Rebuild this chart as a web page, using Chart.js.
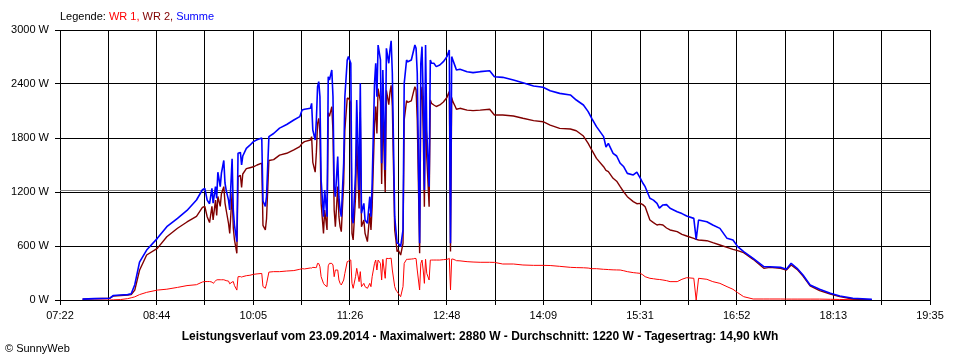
<!DOCTYPE html>
<html>
<head>
<meta charset="utf-8">
<script src="https://cdn.jsdelivr.net/npm/chart.js@4.4.1/dist/chart.umd.min.js"></script>
<style>
  html, body { margin: 0; padding: 0; background: #ffffff; }
</style>
</head>
<body>
<canvas id="myChart" width="960" height="360"></canvas>
<script>
// x axis labels (every second grid line carries one)
const xLabels = ['07:22', '08:44', '10:05', '11:26', '12:48', '14:09', '15:31', '16:52', '18:13', '19:35'];

const seriesNames = ['WR 1', 'WR 2', 'Summe'];
const averageW = 1220;

// sample times of the readings
const times = [
  '07:41','07:51','08:04','08:07','08:13','08:19','08:22','08:25','08:29','08:35','08:44','08:52','09:01','09:09','09:17','09:22',
  '09:24','09:26','09:28','09:30','09:31','09:33','09:34','09:35','09:37','09:38','09:40','09:41','09:42','09:44','09:45','09:47','09:48','09:49','09:51','09:52','09:54','09:55','09:56','09:59',
  '10:02','10:05','10:08','10:12','10:13','10:15','10:16','10:18','10:22','10:27','10:33','10:39','10:44',
  '10:46','10:48','10:53','10:54','10:55','10:57','10:58','10:59','11:00','11:01','11:02','11:04','11:05','11:07','11:08','11:09','11:11','11:12','11:13','11:14',
  '11:16','11:17','11:18','11:19','11:21','11:22','11:24','11:25','11:26','11:27','11:28','11:29','11:31','11:32','11:34','11:35','11:36','11:38','11:39','11:41','11:43','11:44','11:45',
  '11:47','11:48','11:49','11:50','11:52','11:53','11:54','11:56','11:57','11:59','12:00','12:01','12:02','12:04','12:05','12:06','12:07','12:09','12:11','12:12','12:14','12:15',
  '12:18','12:20','12:21','12:22','12:23','12:25','12:26','12:27','12:28','12:29','12:30','12:31','12:33','12:34','12:35','12:37','12:39','12:42','12:45','12:48','12:49','12:50','12:51','12:52','12:53',
  '12:55','12:56','12:59','13:05','13:10','13:16','13:24','13:28','13:35','13:44','13:52','14:01','14:09','14:15','14:23','14:32','14:37','14:43','14:47','14:50','14:54',
  '15:00','15:02','15:04','15:08','15:11','15:14','15:17','15:20','15:25','15:28','15:31','15:33','15:35','15:39','15:42','15:45','15:47','15:50','15:53','15:56',
  '16:02','16:06','16:10','16:16','16:18','16:20','16:27','16:32','16:38','16:44','16:49','16:53','16:58','17:06','17:15','17:20','17:29','17:34','17:38','17:43','17:48','17:54','18:02','18:11','18:19','18:30','18:46',
];

// WR 1 (W)
const wr1 = [
  0,0,0,2,5,15,25,35,60,85,110,120,140,160,170,200,
  205,205,205,200,185,210,225,225,225,225,225,220,215,210,180,200,205,160,110,259,260,255,260,270,
  275,285,290,295,150,130,180,310,315,315,322,327,341,
  348,345,356,355,363,360,360,407,405,370,259,185,167,148,380,407,407,389,259,333,
  333,222,185,167,222,296,426,430,444,444,185,130,259,352,204,315,148,185,148,130,185,148,259,
  407,444,333,444,407,222,452,241,463,460,463,465,333,148,111,93,74,37,148,407,452,452,
  455,458,463,460,333,111,407,444,333,185,452,296,222,444,444,444,444,444,448,452,455,463,111,455,455,
  444,437,435,426,422,419,419,418,400,400,389,385,385,383,374,363,360,358,355,348,348,
  341,340,338,335,334,333,325,315,304,300,296,280,259,241,236,230,228,222,215,204,
  204,230,248,241,0,241,230,204,185,148,119,81,37,11,11,11,11,10,10,10,10,10,10,8,6,3,0,
];

// WR 2 (W)
const wr2 = [
  10,15,20,45,50,55,60,110,330,500,574,703,797,867,930,1030,
  1040,925,860,1040,890,1110,940,1150,1040,1180,1260,1080,1000,850,740,1185,800,667,519,1370,1385,1250,1400,1460,
  1470,1480,1500,1520,830,780,900,1550,1560,1610,1630,1667,1704,
  1741,1759,1778,1815,1530,1420,1640,1960,2019,1852,1074,740,1000,778,2080,2040,2148,1870,1000,815,
  1260,926,815,760,1297,1889,2241,2241,2222,2186,741,667,1148,1778,1018,2090,815,889,741,648,963,778,1037,
  1950,2150,1850,2350,2200,1290,2100,1200,2330,2170,2310,2385,2150,778,667,537,556,500,630,2000,2215,2196,
  2212,2320,2370,2336,2000,519,2220,2370,1889,1037,2370,1593,1037,2222,2185,2167,2150,2167,2200,2250,2285,2315,540,2250,2204,
  2150,2119,2130,2110,2104,2110,2119,2056,2056,2044,2019,1993,1981,1944,1907,1900,1881,1822,1741,1667,1574,
  1481,1440,1426,1352,1320,1259,1200,1148,1093,1070,1074,1060,1037,889,860,833,840,833,800,778,
  759,730,711,685,674,667,659,637,611,585,563,548,526,452,352,363,352,333,389,341,267,156,104,67,37,11,0,
];

// Summe (W)
const summe = [
  10,15,20,50,55,60,70,170,420,555,685,814,908,995,1111,1225,
  1240,1110,1070,1240,1075,1260,1130,1420,1260,1410,1550,1300,1220,1110,1000,1570,1000,830,648,1630,1640,1500,1600,1685,
  1720,1760,1780,1800,1100,1040,1150,1815,1850,1910,1950,2000,2037,
  2111,2120,2130,2185,1889,1778,2000,2370,2426,2259,1333,926,1222,926,2481,2444,2556,2259,1259,1148,
  1593,1148,1000,926,1519,2259,2667,2704,2667,2630,926,852,1407,2222,1222,2407,963,1074,889,852,1148,926,1296,
  2407,2630,2259,2833,2667,1519,2556,1444,2796,2630,2778,2880,2519,926,778,630,630,593,778,2407,2667,2648,
  2667,2778,2833,2796,2519,630,2630,2815,2259,1222,2833,1889,1259,2667,2630,2630,2593,2611,2648,2704,2741,2778,630,2704,2667,
  2593,2556,2563,2537,2526,2537,2548,2481,2474,2444,2415,2378,2363,2326,2296,2278,2222,2167,2093,2019,1926,
  1815,1700,1741,1630,1600,1519,1480,1407,1389,1420,1352,1300,1259,1130,1110,1074,1020,1056,1060,1019,
  981,960,933,907,674,889,870,833,796,685,667,593,537,463,370,370,363,341,407,352,278,167,119,74,44,19,8,
];

const colors = ['#ff0000', '#800000', '#0000ff'];
const fontFamily = '"Liberation Sans", Arial, sans-serif';

const toMin = (s) => parseInt(s.slice(0, 2), 10) * 60 + parseInt(s.slice(3), 10);
const xMin = toMin(xLabels[0]);
const xMax = toMin(xLabels[xLabels.length - 1]);
const gridStep = (xMax - xMin) / ((xLabels.length - 1) * 2);

const points = (vals) => vals.map((v, i) => ({ x: toMin(times[i]), y: v }));

// gray line for the daily average
const averageLine = {
  id: 'averageLine',
  beforeDatasetsDraw(chart) {
    const { ctx, chartArea, scales } = chart;
    const y = Math.round(scales.y.getPixelForValue(averageW)) + 0.5;
    ctx.save();
    ctx.strokeStyle = '#808080';
    ctx.lineWidth = 1;
    ctx.beginPath();
    ctx.moveTo(chartArea.left, y);
    ctx.lineTo(chartArea.right, y);
    ctx.stroke();
    ctx.restore();
  },
};

// legend line on top, summary line and copyright at the bottom
const texts = {
  id: 'texts',
  afterDraw(chart) {
    const { ctx, chartArea, width } = chart;
    ctx.save();
    ctx.textBaseline = 'middle';
    ctx.textAlign = 'left';
    ctx.font = '11px ' + fontFamily;
    let x = chartArea.left;
    const parts = [['Legende: ', '#000000']];
    seriesNames.forEach((n, i) => {
      parts.push([n + (i < seriesNames.length - 1 ? ', ' : ''), colors[i]]);
    });
    parts.forEach(([t, c]) => {
      ctx.fillStyle = c;
      ctx.fillText(t, x, 17);
      x += ctx.measureText(t).width;
    });

    ctx.fillStyle = '#000000';
    ctx.font = 'bold 12px ' + fontFamily;
    ctx.textAlign = 'center';
    ctx.fillText('Leistungsverlauf vom 23.09.2014 - Maximalwert: 2880 W - Durchschnitt: 1220 W - Tagesertrag: 14,90 kWh', width / 2, 337);

    ctx.font = '11px ' + fontFamily;
    ctx.textAlign = 'left';
    ctx.fillText('\u00A9 SunnyWeb', 5, 349);
    ctx.restore();
  },
};

const ctx = document.getElementById('myChart').getContext('2d');
const myChart = new Chart(ctx, {
  type: 'line',
  data: {
    datasets: [
      { label: seriesNames[0], data: points(wr1), borderColor: colors[0], borderWidth: 1, order: 3 },
      { label: seriesNames[1], data: points(wr2), borderColor: colors[1], borderWidth: 1.4, order: 2 },
      { label: seriesNames[2], data: points(summe), borderColor: colors[2], borderWidth: 1.6, order: 1 },
    ],
  },
  options: {
    responsive: false,
    animation: false,
    layout: { padding: { left: 0, top: 30, right: 30, bottom: 0 } },
    elements: {
      point: { radius: 0 },
      line: { tension: 0, borderJoinStyle: 'bevel', fill: false },
    },
    plugins: {
      legend: { display: false },
      tooltip: { enabled: false },
    },
    scales: {
      x: {
        type: 'linear',
        min: xMin,
        max: xMax,
        afterBuildTicks: (scale) => {
          const ticks = [];
          for (let i = 0; i <= (xLabels.length - 1) * 2; i++) {
            ticks.push({ value: xMin + i * gridStep });
          }
          scale.ticks = ticks;
        },
        afterFit: (scale) => {
          scale.height = 60;
        },
        ticks: {
          autoSkip: false,
          maxRotation: 0,
          padding: 4,
          color: '#000000',
          font: { family: fontFamily, size: 11 },
          callback: function (value, index) {
            return index % 2 === 0 ? xLabels[index / 2] : '';
          },
        },
        grid: { color: '#000000', lineWidth: 1, tickLength: 5 },
        border: { color: '#000000' },
      },
      y: {
        min: 0,
        max: 3000,
        afterFit: (scale) => {
          scale.width = 60;
        },
        ticks: {
          stepSize: 600,
          padding: 6,
          color: '#000000',
          font: { family: fontFamily, size: 11 },
          callback: (value) => value + ' W',
        },
        grid: { color: '#000000', lineWidth: 1, tickLength: 5 },
        border: { color: '#000000' },
      },
    },
  },
  plugins: [averageLine, texts],
});
</script>
</body>
</html>
